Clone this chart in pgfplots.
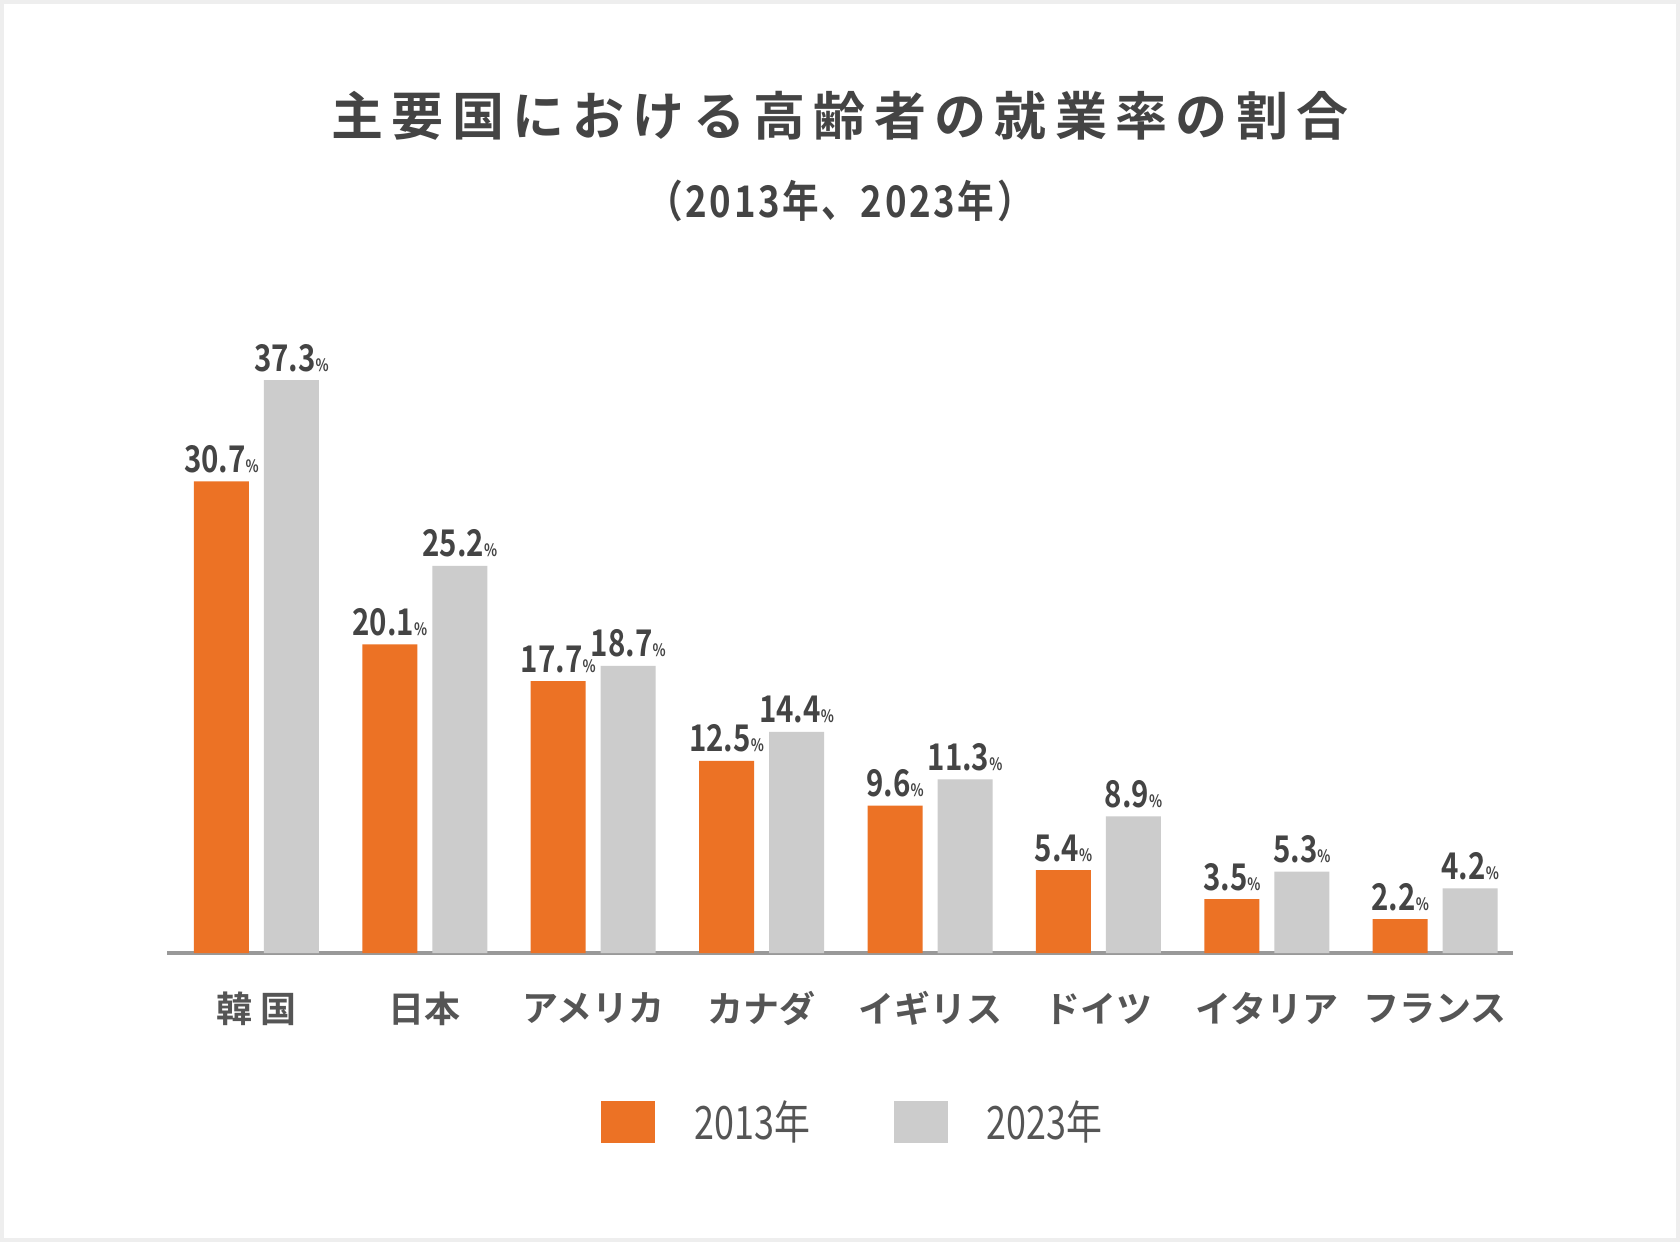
\documentclass[border=0pt]{standalone}
\usepackage{fontspec}
\usepackage{pgfplots}
\pgfplotsset{compat=1.18}

\setmainfont{Noto Sans CJK JP}
\newfontfamily\numfont[FakeStretch=0.8]{Noto Sans CJK JP Bold}
\newfontfamily\subfont[FakeStretch=0.84,LetterSpace=6]{Noto Sans CJK JP Bold}
\newfontfamily\legfont[FakeStretch=0.78]{Noto Sans CJK JP}
\newfontfamily\catfont{Noto Sans CJK JP Bold}
\newfontfamily\titlefont[LetterSpace=16]{Noto Sans CJK JP Bold}

\definecolor{barorange}{RGB}{236,114,37}
\definecolor{bargray}{RGB}{204,204,204}
\definecolor{textdark}{RGB}{68,68,68}
\definecolor{textmid}{RGB}{85,85,85}
\definecolor{axisgray}{RGB}{153,153,153}
\definecolor{framegray}{RGB}{238,238,238}

% 2013 / 2023 employment rate of elderly (%)
\pgfplotstableread{
x y
0 30.7
1 20.1
2 17.7
3 12.5
4 9.6
5 5.4
6 3.5
7 2.2
}\olddata
\pgfplotstableread{
x y
0 37.3
1 25.2
2 18.7
3 14.4
4 11.3
5 8.9
6 5.3
7 4.2
}\newdata

\begin{document}
\begin{tikzpicture}
\fill[framegray] (0,0) rectangle (840pt,621pt);
\fill[white] (1.85pt,1.85pt) rectangle (838.15pt,619.15pt);

\node[text=textdark, font=\titlefont\fontsize{26}{30}\selectfont] at (420pt,563pt)
  {主要国における高齢者の就業率の割合};
\node[text=textdark, font=\subfont\fontsize{21.8}{26}\selectfont] at (420pt,520.5pt)
  {（2013年、2023年）};

\begin{axis}[
  at={(83.5pt,144.5pt)}, anchor=south west,
  x=84.2pt, y=7.68pt,
  xmin=-0.531, xmax=7.46, ymin=0, ymax=40,
  ybar=7.5pt, bar width=27.5pt,
  axis x line*=bottom, axis y line=none,
  x axis line style={-, draw=axisgray, line width=2pt},
  xtick=data,
  xticklabels={韓\hspace{4pt}国,日本,アメリカ,カナダ,イギリス,ドイツ,イタリア,フランス},
  xtick style={draw=none},
  xticklabel style={anchor=center, yshift=-23.5pt, text=textmid,
    font=\catfont\fontsize{18}{20}\selectfont},
  ytick=\empty,
  clip=false,
  nodes near coords={\pgfmathprintnumber[fixed,fixed zerofill,precision=1,assume math mode=true]{\pgfplotspointmeta}{\fontsize{8.5}{9}\selectfont\%}},
  every node near coord/.append style={anchor=base, yshift=4.5pt, inner sep=0pt,
    text=textdark, font=\numfont\fontsize{18.4}{20}\selectfont},
  legend columns=2,
  legend style={at={(0.3225,-0.275)}, anchor=west, draw=none, fill=none,
    inner sep=0pt,
    nodes={inner sep=0pt, text=textmid, font=\legfont\fontsize{23}{25}\selectfont},
    /tikz/every odd column/.append style={column sep=19.5pt},
    /tikz/every even column/.append style={column sep=42pt}},
]
\addplot[fill=barorange, draw=none,
  legend image code/.code={\fill[barorange] (0pt,-10.5pt) rectangle (27pt,10.5pt);}]
  table[x=x, y=y] {\olddata};
\addplot[fill=bargray, draw=none,
  legend image code/.code={\fill[bargray] (0pt,-10.5pt) rectangle (27pt,10.5pt);}]
  table[x=x, y=y] {\newdata};
\legend{2013年,2023年}
\end{axis}

\pgfresetboundingbox
\useasboundingbox (0,0) rectangle (840pt,621pt);
\end{tikzpicture}
\end{document}
